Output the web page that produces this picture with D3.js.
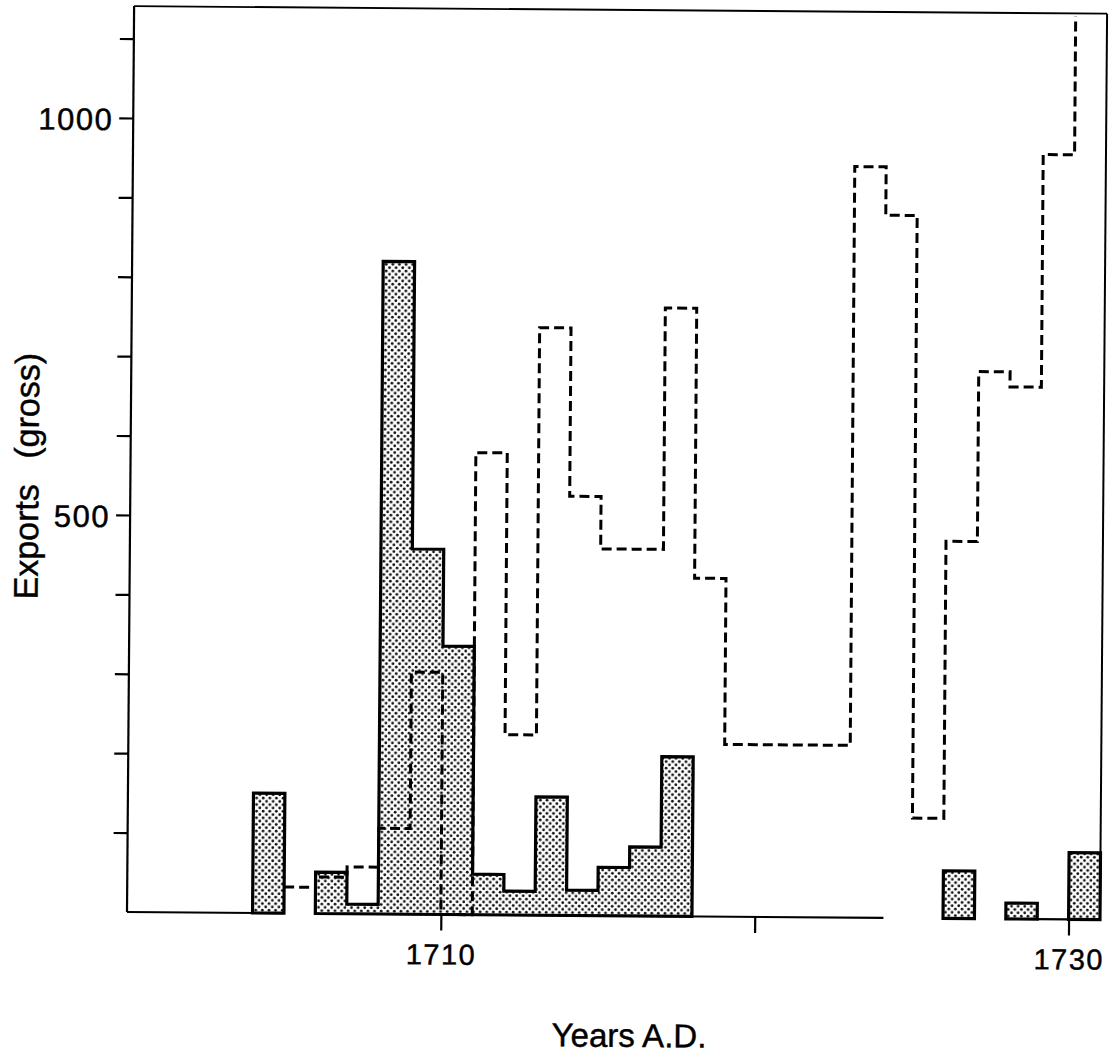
<!DOCTYPE html>
<html>
<head>
<meta charset="utf-8">
<script src="https://cdn.jsdelivr.net/npm/d3@7"></script>
<style>
  body { margin: 0; background: #fff; }
  svg { display: block; background: #fff; }
  text { font-family: "Liberation Sans", Arial, Helvetica, sans-serif; fill: #000; stroke: #000; stroke-width: 0.45px; }
</style>
</head>
<body>
<svg id="chart" width="1111" height="1058"></svg>
<script>
// ---- data ----
const shadedYears  = [1704, 1706, 1707, 1708, 1709, 1710, 1711, 1712, 1713, 1714, 1715, 1716, 1717, 1726, 1728, 1730];
const shadedValues = [151,   52,   12,  822,  460,  338,   51,   30,  149,   32,   61,   87,  201,   60,   20,   84];

const dashedYears  = [1705, 1706, 1707, 1708, 1709, 1710, 1711, 1712, 1713, 1714, 1715, 1716, 1717,
                      1718, 1719, 1720, 1721, 1722, 1723, 1724, 1725, 1726, 1727, 1728, 1729, 1730];
const dashedValues = [33, 46, 59, 108, 305, 0, 582, 227, 740, 528, 462, 462, 766,
                      426, 217, 217, 217, 217, 946, 885, 126, 475, 689, 670, 963, 1200];

const yTickValues  = [100, 200, 300, 400, 500, 600, 700, 800, 900, 1000, 1100];
const yTickLabeled = [500, 1000];
const xTickValues  = [1710, 1720, 1730];
const xTickLabels  = ["1710", "", "1730"];
const baselineSegments = [[1700, 1705], [1706, 1724.1], [1729, 1730]];
const xDomain = [1700, 1731];
const yFrameTop = 1141;
const xTitle = "Years A.D.";
const yTitle = "Exports (gross)";

// ---- scales ----
const x = d3.scaleLinear().domain(xDomain).range([127, 1100]);
const y = d3.scaleLinear().domain([0, 1000]).range([912, 118]);

const svg = d3.select("#chart");
const defs = svg.append("defs");

const pat = defs.append("pattern")
  .attr("id", "dots").attr("patternUnits", "userSpaceOnUse")
  .attr("width", 6.6).attr("height", 6.6);
pat.append("rect").attr("width", 6.6).attr("height", 6.6).attr("fill", "#fff");
pat.append("circle").attr("cx", 1.65).attr("cy", 1.65).attr("r", 1.4).attr("fill", "#111");
pat.append("circle").attr("cx", 4.95).attr("cy", 4.95).attr("r", 1.4).attr("fill", "#111");

defs.append("clipPath").attr("id", "plotClip").append("rect")
  .attr("x", x(xDomain[0])).attr("y", y(yFrameTop) + 3)
  .attr("width", x(xDomain[1]) - x(xDomain[0]))
  .attr("height", y(0) - y(yFrameTop) + 40);

// slight tilt of the scanned original
const g = svg.append("g").attr("transform", "rotate(0.45,127,912)");

const line = d3.line().x(p => x(p[0])).y(p => y(p[1]));

// ---- shaded series (contiguous groups of years) ----
const shaded = shadedYears.map((yr, i) => ({ yr, v: shadedValues[i] }));
const groups = [];
shaded.forEach(d => {
  const last = groups[groups.length - 1];
  if (last && d.yr === last[last.length - 1].yr + 1) last.push(d);
  else groups.push([d]);
});
const poly = grp => {
  const pts = [[grp[0].yr, 0]];
  grp.forEach(d => { pts.push([d.yr, d.v], [d.yr + 1, d.v]); });
  pts.push([grp[grp.length - 1].yr + 1, 0]);
  return line(pts) + "Z";
};

// ---- frame ----
const frame = g.append("g").attr("stroke", "#000").attr("fill", "none");
frame.append("line").attr("x1", x(xDomain[0])).attr("x2", x(xDomain[0]))
  .attr("y1", y(yFrameTop)).attr("y2", y(0)).attr("stroke-width", 2.2);
frame.append("line").attr("x1", x(xDomain[0])).attr("x2", x(xDomain[1]))
  .attr("y1", y(yFrameTop)).attr("y2", y(yFrameTop)).attr("stroke-width", 1.8);
frame.append("line").attr("x1", x(xDomain[1])).attr("x2", x(xDomain[1]))
  .attr("y1", y(yFrameTop)).attr("y2", y(0)).attr("stroke-width", 2);
frame.selectAll("line.base").data(baselineSegments).join("line").attr("class", "base")
  .attr("x1", d => x(d[0])).attr("x2", d => x(d[1]))
  .attr("y1", y(0)).attr("y2", y(0)).attr("stroke-width", 2.2);

g.append("g").selectAll("path").data(groups).join("path")
  .attr("d", poly)
  .attr("fill", "url(#dots)")
  .attr("stroke", "#000")
  .attr("stroke-width", 3.2)
  .attr("stroke-linejoin", "miter");

// ---- dashed series ----
const dpts = [];
dashedYears.forEach((yr, i) => { dpts.push([yr, dashedValues[i]], [yr + 1, dashedValues[i]]); });
g.append("path")
  .attr("clip-path", "url(#plotClip)")
  .attr("d", line(dpts))
  .attr("fill", "none")
  .attr("stroke", "#000")
  .attr("stroke-width", 3)
  .attr("stroke-dasharray", "10,5");

// ---- axes ----
const yAxis = d3.axisLeft(y).tickValues(yTickValues).tickSize(14).tickPadding(6)
  .tickFormat(d => yTickLabeled.includes(d) ? String(d) : "");
const ya = g.append("g").attr("transform", `translate(${x(xDomain[0])},0)`).call(yAxis);
ya.attr("font-size", null).attr("font-family", null);
ya.select(".domain").remove();
ya.selectAll(".tick line").attr("stroke", "#000").attr("stroke-width", 2.2);
ya.selectAll(".tick text").attr("font-size", 31).attr("dy", "0.38em").attr("letter-spacing", 1.5);

const xAxis = d3.axisBottom(x).tickValues(xTickValues).tickSize(16).tickPadding(13.5)
  .tickFormat((d, i) => xTickLabels[i]);
const xa = g.append("g").attr("transform", `translate(0,${y(0)})`).call(xAxis);
xa.attr("font-size", null).attr("font-family", null);
xa.select(".domain").remove();
xa.selectAll(".tick line").attr("stroke", "#000").attr("stroke-width", 2.2);
xa.selectAll(".tick text").attr("font-size", 29).attr("letter-spacing", 1.5);

// ---- titles ----
g.append("text")
  .attr("x", 630).attr("y", 1043)
  .attr("text-anchor", "middle")
  .attr("font-size", 33)
  .text(xTitle);

g.append("text")
  .attr("transform", "translate(35,477) rotate(-90)")
  .attr("text-anchor", "middle")
  .attr("font-size", 34)
  .attr("word-spacing", 16)
  .text(yTitle);
</script>
</body>
</html>
